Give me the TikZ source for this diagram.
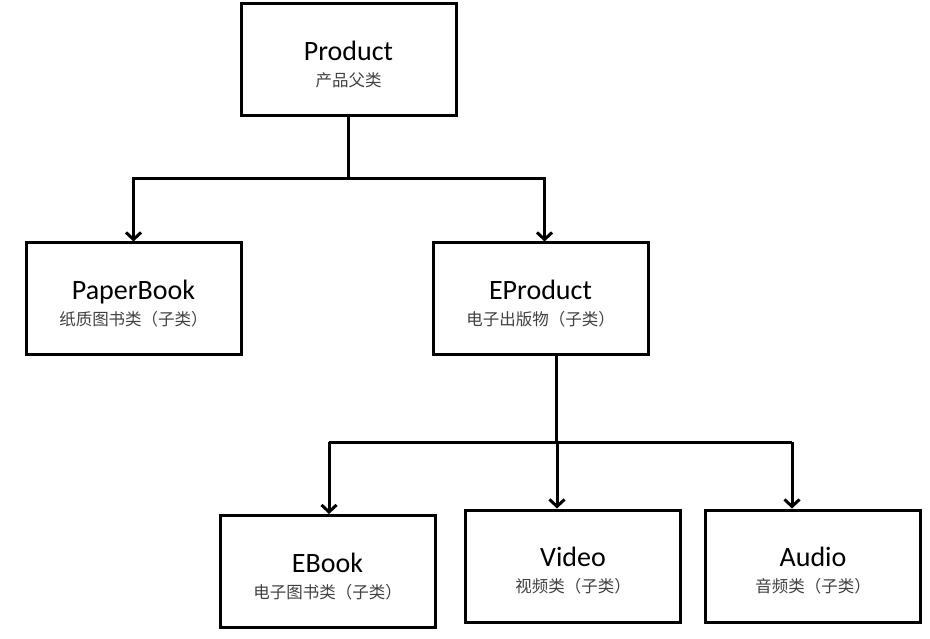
\documentclass[tikz,border=0pt]{standalone}
\usepackage{fontspec}
\setmainfont{Carlito}
\newfontfamily\cjk{Noto Sans CJK SC}
\usepackage{tikz}
\usetikzlibrary{arrows.meta}
\usetikzlibrary{positioning}

\newcommand{\boxtext}[2]{\rule{0pt}{29pt}#1\\{\cjk\fontsize{16.5}{18}\selectfont\color{black!75}#2}}

\begin{document}
\begin{tikzpicture}[
        x=1pt, y=-1pt,
        classbox/.style={draw, rectangle, line width=3pt, minimum width=215pt, minimum height=112pt, align=center, inner sep=0pt, font=\fontsize{28}{26}\selectfont},
        link/.style={line width=3pt},
        arrow/.style={line width=3pt, -{Straight Barb[length=7pt, width=15pt]}}
    ]
    \useasboundingbox (0,0) rectangle (930,639);

    % classes
    \node[classbox] (product) at (348.5,59.5) {\boxtext{Product}{产品父类}};
    \node[classbox] (paperbook) at (133.5,299) {\boxtext{PaperBook}{纸质图书类（子类）}};
    \node[classbox] (eproduct) at (540.5,299) {\boxtext{EProduct}{电子出版物（子类）}};
    \node[classbox] (ebook) at (327.5,571.5) {\boxtext{EBook}{电子图书类（子类）}};
    \node[classbox] (video) at (573,566) {\boxtext{Video}{视频类（子类）}};
    \node[classbox] (audio) at (813,566) {\boxtext{Audio}{音频类（子类）}};

    % first level
    \coordinate (fork1) at (348.5,179);
    \draw[link] (product.south) -- (fork1);
    \draw[arrow] (fork1) -| (paperbook.north);
    \draw[arrow] (fork1) -| ([xshift=4pt]eproduct.north);

    % second level
    \coordinate (fork2) at (556,442);
    \coordinate (toebook) at (329,442);
    \coordinate (tovideo) at (557,442);
    \coordinate (toaudio) at (792,442);
    \draw[link] (eproduct.south -| fork2) -- (fork2);
    \draw[link] (toebook) -- (toaudio);
    \draw[arrow] (toebook) -- (ebook.north -| toebook);
    \draw[arrow] (tovideo) -- (video.north -| tovideo);
    \draw[arrow] (toaudio) -- (audio.north -| toaudio);
\end{tikzpicture}
\end{document}
